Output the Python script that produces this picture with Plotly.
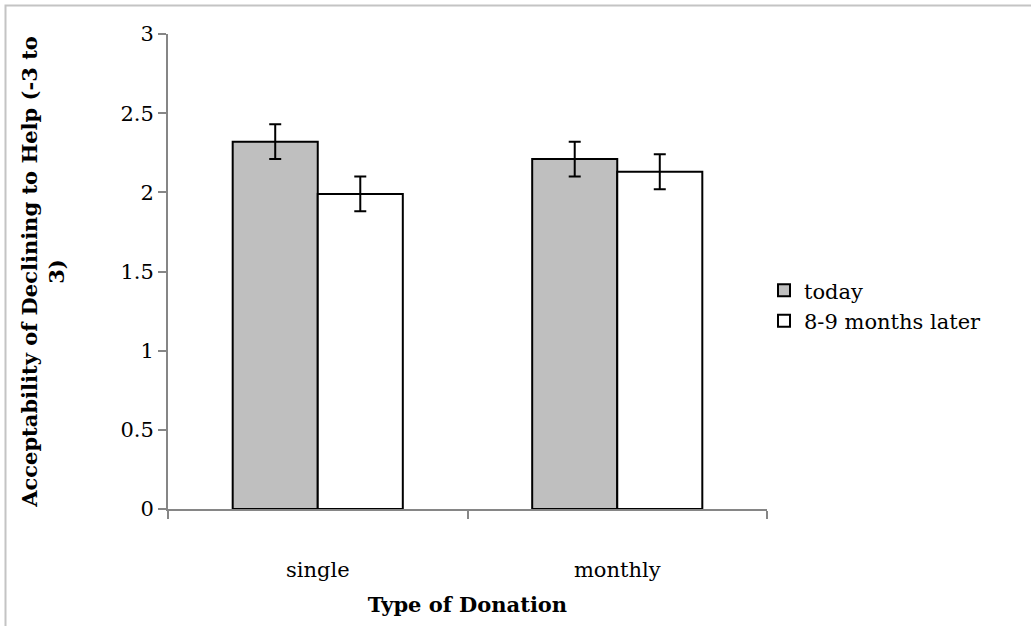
import plotly.graph_objects as go

# Donation type categories and the two timing conditions
categories = ["single", "monthly"]
series_names = ["today", "8-9 months later"]
today_means = [2.32, 2.21]
later_means = [1.99, 2.13]
today_err = [0.11, 0.11]
later_err = [0.11, 0.11]
y_ticks = [0, 0.5, 1, 1.5, 2, 2.5, 3]

W, H = 1031, 626
ML, MR, MT, MB = 168, 264, 34, 117
FONT = "DejaVu Serif"
AXIS_GRAY = "#868686"
TICK_SIZE = 21
TITLE_SIZE = 21

fig = go.Figure()
fig.add_trace(go.Bar(
    name=series_names[0], x=categories, y=today_means,
    marker=dict(color="#bfbfbf", line=dict(color="black", width=2)),
    error_y=dict(type="data", array=today_err, color="black", thickness=2, width=6),
))
fig.add_trace(go.Bar(
    name=series_names[1], x=categories, y=later_means,
    marker=dict(color="white", line=dict(color="black", width=2)),
    error_y=dict(type="data", array=later_err, color="black", thickness=2, width=6),
))

pw = W - ML - MR
ph = H - MT - MB
# light gray chart-area frame
fig.add_shape(type="rect", xref="paper", yref="paper",
              x0=(5.5 - ML) / pw, x1=(W + 20 - ML) / pw,
              y0=-(H + 20 - MT - ph) / ph, y1=1 + (MT - 5.5) / ph,
              line=dict(color="#c4c4c4", width=2), fillcolor="rgba(0,0,0,0)", layer="below")

fig.update_layout(
    width=W, height=H,
    margin=dict(l=ML, r=MR, t=MT, b=MB),
    paper_bgcolor="white", plot_bgcolor="white",
    barmode="group", bargap=0.432, bargroupgap=0,
    font=dict(family=FONT, size=TICK_SIZE, color="black"),
    showlegend=True,
    legend=dict(x=0.995, xanchor="left", y=0.428, yanchor="middle",
                font=dict(family=FONT, size=TICK_SIZE), bgcolor="rgba(0,0,0,0)",
                tracegroupgap=6, itemwidth=30),
    xaxis=dict(
        showline=True, linecolor=AXIS_GRAY, linewidth=2,
        ticks="outside", ticklen=8, tickcolor=AXIS_GRAY, tickwidth=2,
        tickson="boundaries", showgrid=False, ticklabelstandoff=41,
        tickfont=dict(family=FONT, size=TICK_SIZE),
        title=dict(text="Type of Donation", font=dict(family=FONT, size=TITLE_SIZE, weight="bold"), standoff=16),
    ),
    yaxis=dict(
        range=[0, 3], tickvals=y_ticks, ticktext=[str(v) if v != int(v) else str(int(v)) for v in y_ticks],
        showline=True, linecolor=AXIS_GRAY, linewidth=2,
        ticks="outside", ticklen=8, tickcolor=AXIS_GRAY, tickwidth=2,
        showgrid=False, zeroline=False,
        tickfont=dict(family=FONT, size=TICK_SIZE),
        title=dict(text="Acceptability of Declining to Help (-3 to<br>3)",
                   font=dict(family=FONT, size=TITLE_SIZE, weight="bold"), standoff=50),
    ),
)

fig.write_html("out.html")
